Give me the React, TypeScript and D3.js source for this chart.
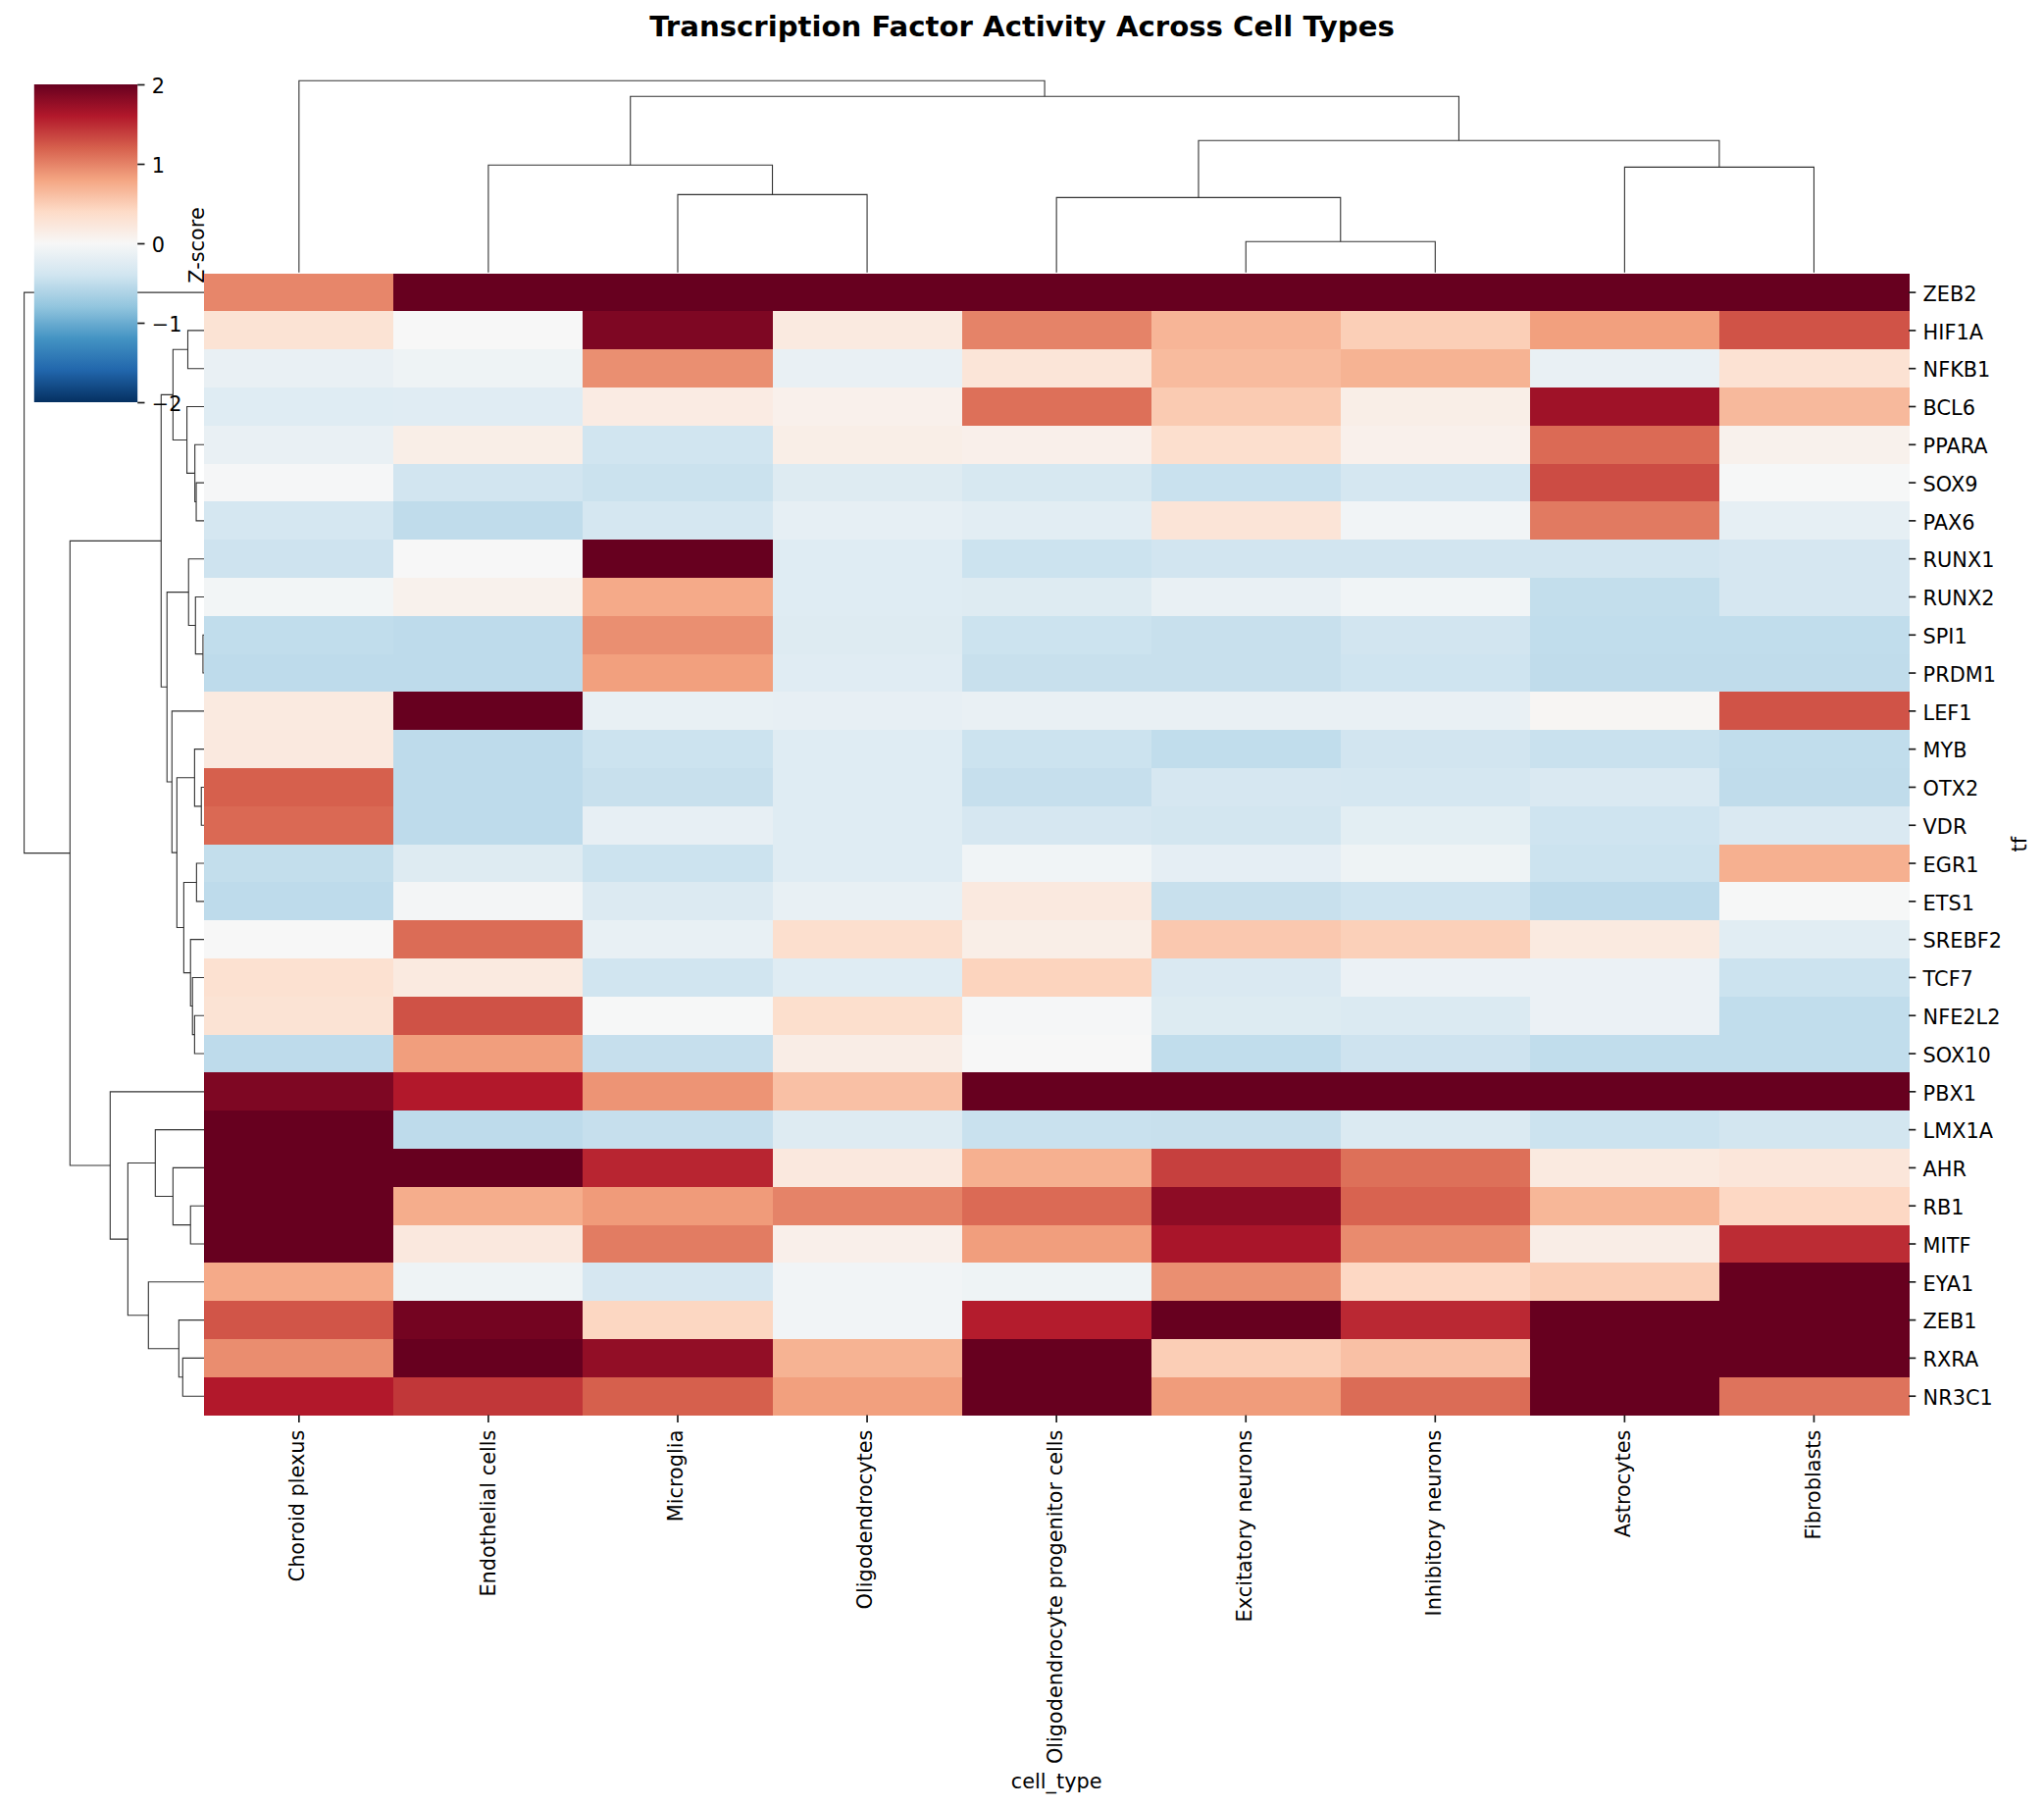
import React, { FC, useEffect, useRef } from "react";
import * as d3 from "d3";

const cellTypes = ["Choroid plexus", "Endothelial cells", "Microglia", "Oligodendrocytes", "Oligodendrocyte progenitor cells", "Excitatory neurons", "Inhibitory neurons", "Astrocytes", "Fibroblasts"];
const tfs = ["ZEB2", "HIF1A", "NFKB1", "BCL6", "PPARA", "SOX9", "PAX6", "RUNX1", "RUNX2", "SPI1", "PRDM1", "LEF1", "MYB", "OTX2", "VDR", "EGR1", "ETS1", "SREBF2", "TCF7", "NFE2L2", "SOX10", "PBX1", "LMX1A", "AHR", "RB1", "MITF", "EYA1", "ZEB1", "RXRA", "NR3C1"];

// z-scores, one list per TF, same order as cellTypes (colour clamps at 2)
const zeb2 = [0.98, 2.5, 2.5, 2.5, 2.5, 2.5, 2.5, 2.5, 2.5];
const hif1a = [0.29, 0.0, 1.88, 0.19, 1.0, 0.68, 0.49, 0.83, 1.27];
const nfkb1 = [-0.15, -0.09, 0.93, -0.15, 0.26, 0.64, 0.7, -0.15, 0.3];
const bcl6 = [-0.25, -0.24, 0.17, 0.1, 1.11, 0.52, 0.13, 1.7, 0.65];
const ppara = [-0.15, 0.13, -0.4, 0.13, 0.11, 0.34, 0.1, 1.14, 0.09];
const sox9 = [-0.02, -0.39, -0.44, -0.26, -0.34, -0.45, -0.36, 1.31, -0.01];
const pax6 = [-0.36, -0.51, -0.36, -0.18, -0.22, 0.27, -0.06, 1.05, -0.18];
const runx1 = [-0.42, 0.0, 2.5, -0.25, -0.43, -0.39, -0.39, -0.39, -0.35];
const runx2 = [-0.05, 0.09, 0.76, -0.25, -0.26, -0.15, -0.07, -0.49, -0.35];
const spi1 = [-0.5, -0.52, 0.93, -0.26, -0.43, -0.46, -0.39, -0.5, -0.5];
const prdm1 = [-0.52, -0.52, 0.83, -0.24, -0.46, -0.46, -0.41, -0.51, -0.51];
const lef1 = [0.19, 2.5, -0.16, -0.17, -0.15, -0.15, -0.15, 0.03, 1.27];
const myb = [0.2, -0.52, -0.43, -0.25, -0.43, -0.5, -0.39, -0.45, -0.5];
const otx2 = [1.2, -0.52, -0.46, -0.25, -0.47, -0.35, -0.36, -0.31, -0.51];
const vdr = [1.15, -0.52, -0.17, -0.25, -0.35, -0.38, -0.21, -0.41, -0.31];
const egr1 = [-0.49, -0.26, -0.43, -0.25, -0.07, -0.19, -0.09, -0.43, 0.72];
const ets1 = [-0.52, -0.04, -0.28, -0.16, 0.2, -0.46, -0.41, -0.52, -0.01];
const srebf2 = [0.0, 1.13, -0.16, 0.34, 0.13, 0.54, 0.48, 0.19, -0.23];
const tcf7 = [0.32, 0.19, -0.4, -0.25, 0.45, -0.31, -0.13, -0.13, -0.43];
const nfe2l2 = [0.29, 1.28, -0.01, 0.35, -0.02, -0.27, -0.29, -0.13, -0.5];
const sox10 = [-0.52, 0.84, -0.47, 0.14, 0.0, -0.5, -0.42, -0.5, -0.5];
const pbx1 = [1.88, 1.6, 0.9, 0.6, 2.5, 2.5, 2.5, 2.5, 2.5];
const lmx1a = [2.5, -0.52, -0.47, -0.26, -0.45, -0.46, -0.29, -0.43, -0.38];
const ahr = [2.5, 2.5, 1.53, 0.21, 0.72, 1.38, 1.11, 0.19, 0.24];
const rb1 = [2.5, 0.74, 0.86, 1.0, 1.14, 1.8, 1.18, 0.67, 0.42];
const mitf = [2.5, 0.21, 1.04, 0.11, 0.84, 1.65, 0.95, 0.14, 1.49];
const eya1 = [0.76, -0.1, -0.35, -0.06, -0.1, 0.93, 0.42, 0.5, 2.5];
const zeb1 = [1.26, 1.93, 0.43, -0.06, 1.58, 2.5, 1.51, 2.5, 2.5];
const rxra = [0.94, 2.5, 1.77, 0.7, 2.5, 0.5, 0.6, 2.5, 2.5];
const nr3c1 = [1.6, 1.43, 1.2, 0.83, 2.5, 0.85, 1.13, 2.5, 1.09];
const matrix = [zeb2, hif1a, nfkb1, bcl6, ppara, sox9, pax6, runx1, runx2, spi1, prdm1, lef1, myb, otx2, vdr, egr1, ets1, srebf2, tcf7, nfe2l2, sox10, pbx1, lmx1a, ahr, rb1, mitf, eya1, zeb1, rxra, nr3c1];

// linkage trees: [distance, left, right], leaves are names
type Link = string | [number, Link, Link];

const colTree: Link = [15, "Choroid plexus",
    [13.77,
        [8.4, "Endothelial cells", [6.09, "Microglia", "Oligodendrocytes"]],
        [10.32,
            [5.86, "Oligodendrocyte progenitor cells", [2.41, "Excitatory neurons", "Inhibitory neurons"]],
            [8.24, "Astrocytes", "Fibroblasts"]]]];

const rowTree: Link = [12, "ZEB2",
    [8.94,
        [2.86,
            [2.07,
                [1.08, "HIF1A", "NFKB1"],
                [1.14, "BCL6", [0.61, "PPARA", [0.52, "SOX9", "PAX6"]]]],
            [2.47,
                [1.03, "RUNX1", [0.57, "RUNX2", [0.07, "SPI1", "PRDM1"]]],
                [2.14, "LEF1",
                    [1.81,
                        [0.63, "MYB", [0.18, "OTX2", "VDR"]],
                        [1.35,
                            [0.5, "EGR1", "ETS1"],
                            [0.9, "SREBF2", [0.77, "TCF7", [0.63, "NFE2L2", "SOX10"]]]]]]]],
        [6.26, "PBX1",
            [5.08,
                [3.25, "LMX1A", [2.07, "AHR", [0.9, "RB1", "MITF"]]],
                [3.71, "EYA1", [1.68, "ZEB1", [1.42, "RXRA", "NR3C1"]]]]]]];

const FONT = "'DejaVu Sans'";
const TICK_COLOR = "#1a1a1a";
const LINK_COLOR = "#333333";

// matplotlib's RdBu_r is a straight ramp through the 11 brewer colours
const ramp = [...d3.schemeRdBu[11]].reverse();
const color = d3.scaleLinear<string>()
    .domain(d3.range(11).map(i => -2 + i * 0.4))
    .range(ramp)
    .clamp(true);

// walks a linkage tree, hands every merge to draw(), returns leaf position
function walk(link: Link, leafPos: (name: string) => number, draw: (a: [number, number], b: [number, number], h: number) => void): [number, number] {
    if (typeof link === "string") return [leafPos(link), 0];
    const a = walk(link[1], leafPos, draw);
    const b = walk(link[2], leafPos, draw);
    draw(a, b, link[0]);
    return [(a[0] + b[0]) / 2, link[0]];
}

const Clustermap: FC = () => {
    const svgRef = useRef<SVGSVGElement>(null);

    useEffect(() => {
        if (!svgRef.current) return;
        const svg = d3.select(svgRef.current);
        svg.selectAll("*").remove();

        const left = 208.3, right = 1946, top = 278.7, bottom = 1442.6;
        const x = d3.scaleBand().domain(cellTypes).range([left, right]);
        const y = d3.scaleBand().domain(tfs).range([top, bottom]);

        // Dendrograms
        const colH = d3.scaleLinear().domain([0, 15]).range([277.7, 82.3]);
        const rowH = d3.scaleLinear().domain([0, 12]).range([208, 24.6]);
        const links = svg.append("g").attr("fill", "none").attr("stroke", LINK_COLOR).attr("stroke-width", 1.1);

        walk(colTree, n => (x(n) || 0) + x.bandwidth() / 2, (a, b, h) => {
            links.append("path").attr("d", d3.line()([[a[0], colH(a[1])], [a[0], colH(h)], [b[0], colH(h)], [b[0], colH(b[1])]]));
        });
        walk(rowTree, n => (y(n) || 0) + y.bandwidth() / 2, (a, b, h) => {
            links.append("path").attr("d", d3.line()([[rowH(a[1]), a[0]], [rowH(h), a[0]], [rowH(h), b[0]], [rowH(b[1]), b[0]]]));
        });

        // Colour bar
        const cbar = d3.scaleLinear().domain([-2, 2]).range([410, 86]);
        const defs = svg.append("defs");
        const grad = defs.append("linearGradient").attr("id", "cbar").attr("x1", 0).attr("y1", 1).attr("x2", 0).attr("y2", 0);
        ramp.forEach((c, i) => grad.append("stop").attr("offset", i / 10).attr("stop-color", c));
        svg.append("rect").attr("x", 34.8).attr("y", 86).attr("width", 105.4).attr("height", 324).attr("fill", "url(#cbar)");
        const cbarAxis = svg.append("g")
            .attr("transform", "translate(140.2,0)")
            .call(d3.axisRight(cbar).tickValues([-2, -1, 0, 1, 2]).tickFormat(d3.format("d")).tickSize(7.3).tickPadding(7.3));
        cbarAxis.select(".domain").remove();

        svg.append("text")
            .attr("transform", "translate(208,250) rotate(-90)")
            .attr("text-anchor", "middle")
            .attr("font-size", 20.83)
            .text("Z-score");

        // Heatmap cells
        svg.append("g").attr("shape-rendering", "crispEdges")
            .selectAll("g")
            .data(matrix)
            .enter()
            .append("g")
            .attr("transform", (_, i) => `translate(0,${y(tfs[i])})`)
            .selectAll("rect")
            .data(d => d)
            .enter()
            .append("rect")
            .attr("x", (_, i) => x(cellTypes[i]) || 0)
            .attr("width", x.bandwidth() + 0.5)
            .attr("height", y.bandwidth() + 0.5)
            .attr("fill", d => color(d));

        // Axes
        const rowAxis = svg.append("g")
            .attr("transform", `translate(${right},0)`)
            .call(d3.axisRight(y).tickSize(7.3).tickPadding(7.3));
        rowAxis.select(".domain").remove();

        const colAxis = svg.append("g")
            .attr("transform", `translate(0,${bottom})`)
            .call(d3.axisBottom(x).tickSize(7.3));
        colAxis.select(".domain").remove();

        svg.selectAll(".tick line").attr("stroke", TICK_COLOR).attr("stroke-width", 1.67);
        svg.selectAll(".tick text").attr("fill", "#000").attr("font-size", 20.83).attr("font-family", FONT).attr("dy", "0.42em");

        // bottom labels stand on end; matplotlib centres each one's own ink on the tick
        colAxis.selectAll<SVGTextElement, string>("text")
            .attr("transform", "rotate(-90)")
            .attr("text-anchor", "end")
            .attr("x", -15)
            .attr("dy", 0)
            .attr("y", d => (/[gjpqy]/.test(d) ? 5.4 : 6.9));

        svg.append("text")
            .attr("x", (left + right) / 2)
            .attr("y", 1823)
            .attr("text-anchor", "middle")
            .attr("font-size", 20.83)
            .text("cell_type");

        svg.append("text")
            .attr("transform", `translate(2065.5,${(top + bottom) / 2}) rotate(-90)`)
            .attr("text-anchor", "middle")
            .attr("font-size", 20.83)
            .text("tf");

        svg.append("text")
            .attr("x", 1042)
            .attr("y", 37)
            .attr("text-anchor", "middle")
            .attr("font-size", 29.17)
            .attr("font-weight", "bold")
            .text("Transcription Factor Activity Across Cell Types");

        svg.selectAll("svg > text").attr("font-family", FONT).attr("fill", "#000");
    }, []);

    return (
        <svg
            ref={svgRef}
            width={2084}
            height={1843}
            style={{ position: "absolute", left: 0, top: 0, background: "#fff" }}
        />
    );
};

export default function App() {
    return <Clustermap />;
}
